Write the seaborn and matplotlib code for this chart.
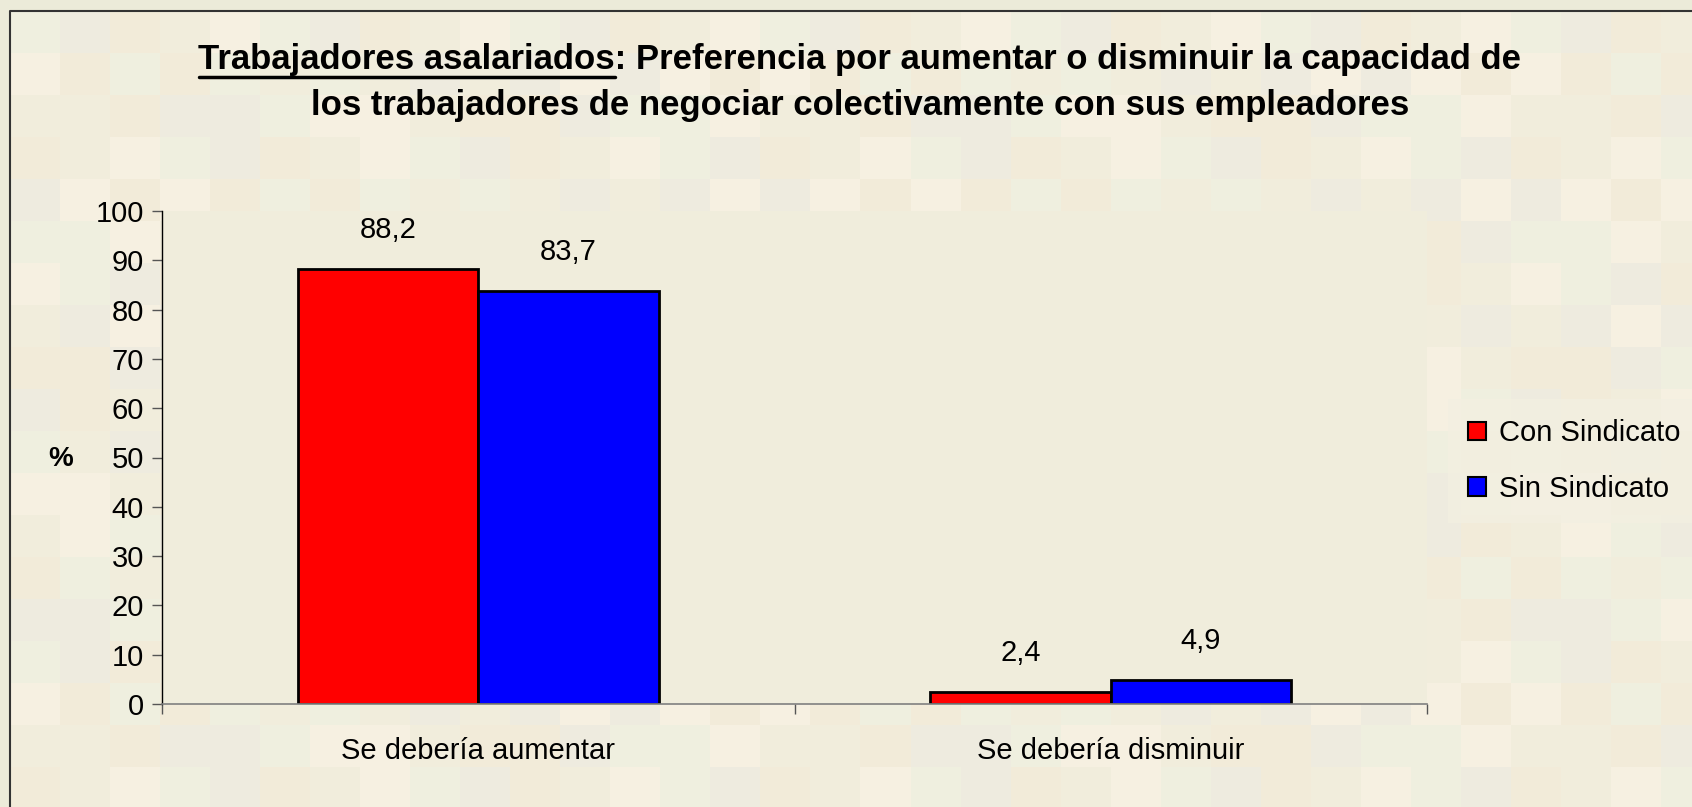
"""
Trabajadores asalariados: preferencia por aumentar o disminuir la capacidad
de negociar colectivamente (Con / Sin Sindicato).
"""

import matplotlib.pyplot as plt
import seaborn as sns
import pandas as pd
import numpy as np
from matplotlib.patches import Patch

# Data
categorias = ['Se debería aumentar', 'Se debería disminuir']
grupos = ['Con Sindicato', 'Sin Sindicato']
con_sindicato = [88.2, 2.4]
sin_sindicato = [83.7, 4.9]
y_ticks = list(range(0, 101, 10))

df = pd.DataFrame({
    'respuesta': categorias * 2,
    'grupo': [grupos[0]] * len(categorias) + [grupos[1]] * len(categorias),
    'pct': con_sindicato + sin_sindicato,
})

sns.set_style("white")
plt.rcParams['font.family'] = ['Liberation Sans', 'DejaVu Sans']
plt.rcParams['text.color'] = 'black'
plt.rcParams['xtick.color'] = 'black'
plt.rcParams['ytick.color'] = 'black'
plt.rcParams['axes.labelcolor'] = 'black'

W, H = 1692, 807
fig = plt.figure(figsize=(W / 100, H / 100), dpi=100)
fig.patch.set_facecolor('#ECEBD9')

# checkered background inside the frame
bg = fig.add_axes([0, 0, 1, 1], zorder=-10)
bg.axis('off')
tile_colors = np.array([
    [239, 239, 223], [242, 235, 217], [246, 240, 225],
    [238, 235, 223], [241, 237, 220],
]) / 255.0
ncols, nrows = 34, 20
idx = (np.arange(nrows)[:, None] * 2 + np.arange(ncols)[None, :] * 3
       + (np.arange(nrows)[:, None] * np.arange(ncols)[None, :]) % 3) % len(tile_colors)
bg.imshow(tile_colors[idx], extent=[10, 10 + ncols * 50, 11 + nrows * 42, 11],
          interpolation='nearest', aspect='auto')
bg.plot([10, 10, W], [H, 11, 11], color='#333333', lw=1.5)
bg.set_xlim(0, W)
bg.set_ylim(H, 0)

# main axes
x0, x1, y0, y1 = 162, 1427, 211, 704
ax = fig.add_axes([x0 / W, 1 - y1 / H, (x1 - x0) / W, (y1 - y0) / H])
ax.set_facecolor('#F0EDDC')

sns.barplot(data=df, x='respuesta', y='pct', hue='grupo',
            palette=['#FF0000', '#0000FF'], saturation=1, width=0.57,
            edgecolor='black', linewidth=2, ax=ax, legend=False)

ax.set_xlim(-0.5, 1.5)
ax.set_ylim(0, 100)
ax.set_yticks(y_ticks)
ax.set_xlabel('')
ax.set_ylabel('')
for s in ['top', 'right']:
    ax.spines[s].set_visible(False)
ax.spines['left'].set_color('black')
ax.spines['bottom'].set_color('#808080')
ax.spines['left'].set_linewidth(1)
ax.spines['bottom'].set_linewidth(1.2)

ax.tick_params(axis='y', direction='out', length=7, width=1, color='#555555',
               labelsize=21, pad=6, left=True)
ax.tick_params(axis='x', which='major', length=0, labelsize=21, pad=24)
ax.set_xticks([-0.5, 0.5, 1.5], minor=True)
ax.tick_params(axis='x', which='minor', direction='out', length=7, width=1,
               color='#555555', bottom=True)

# value labels with decimal comma
for cont in ax.containers:
    vals = [b.get_height() for b in cont]
    ax.bar_label(cont, labels=[f'{v:.1f}'.replace('.', ',') for v in vals],
                 padding=18, fontsize=21, color='black')

fig.text(61 / W, 1 - 459 / H, '%', ha='center', va='center',
         fontsize=20, fontweight='bold')

# legend
handles = [Patch(facecolor=c, edgecolor='black', linewidth=1.5)
           for c in ['#FF0000', '#0000FF']]
leg = fig.legend(handles, grupos, loc='center left',
                 bbox_to_anchor=(1448 / W, 1 - 461 / H),
                 frameon=True, facecolor='#F3EFE1', edgecolor='none',
                 fontsize=21, handlelength=0.6, handleheight=0.6,
                 handletextpad=0.45, labelspacing=0.95, borderpad=0.7,
                 fancybox=False, borderaxespad=0)

# title (first part underlined)
cx = 860 / W
tsize = 25
line1 = 'Trabajadores asalariados: Preferencia por aumentar o disminuir la capacidad de'
line2 = 'los trabajadores de negociar colectivamente con sus empleadores'
t1 = fig.text(cx, 1 - 59 / H, line1, ha='center', va='center',
              fontsize=tsize, fontweight='bold')
fig.text(cx, 1 - 106 / H, line2, ha='center', va='center',
         fontsize=tsize, fontweight='bold')

renderer = fig.canvas.get_renderer()
bb = t1.get_window_extent(renderer)
probe = fig.text(0, 0, 'Trabajadores asalariados', fontsize=tsize,
                 fontweight='bold')
pw = probe.get_window_extent(renderer).width
probe.remove()
uy = bb.y0 - 1
bg.plot([bb.x0, bb.x0 + pw], [H - uy, H - uy], color='black', lw=2.5)
bg.set_xlim(0, W)
bg.set_ylim(H, 0)

fig.savefig('out.png', dpi=100, facecolor=fig.get_facecolor())
